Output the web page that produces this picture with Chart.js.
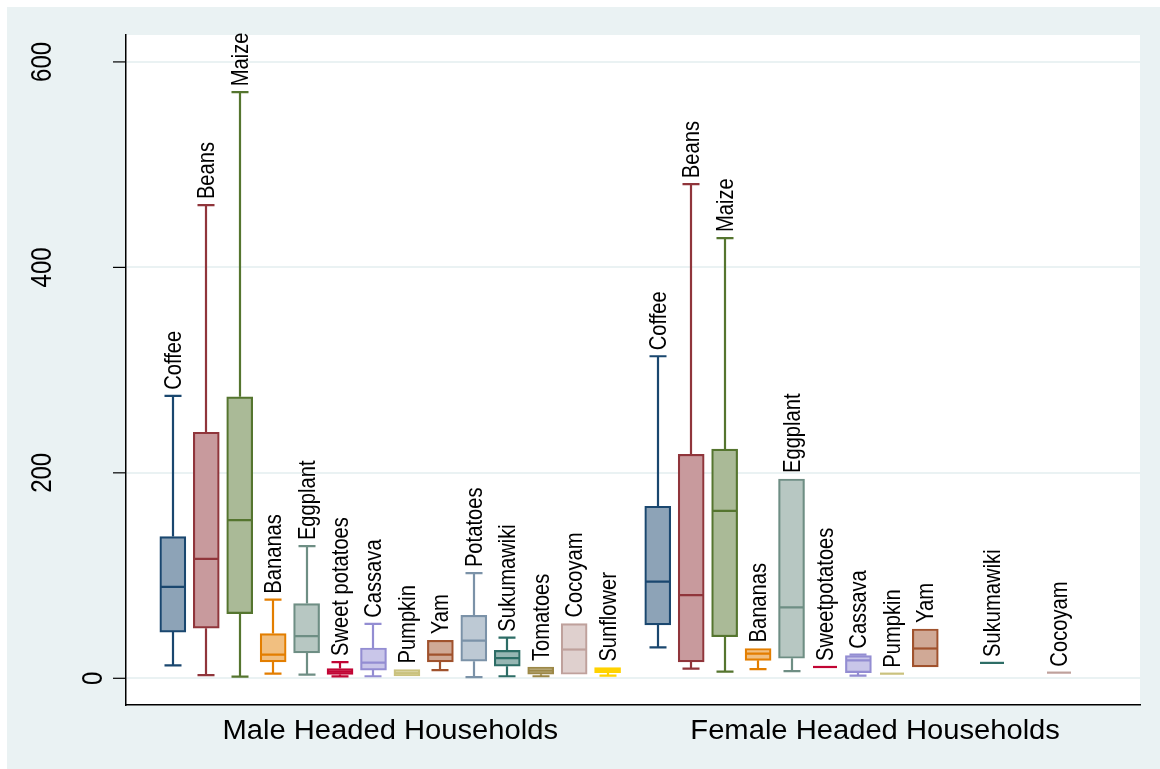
<!DOCTYPE html>
<html>
<head>
<meta charset="utf-8">
<script src="https://cdn.jsdelivr.net/npm/chart.js@4.4.0/dist/chart.umd.min.js"></script>
<style>
  html, body { margin: 0; padding: 0; background: #ffffff; }
  canvas { display: block; }
</style>
</head>
<body>
<canvas id="chart" width="1160" height="769"></canvas>
<script>
// crop slots (same order in both groups)
const maleLabels = ['Coffee', 'Beans', 'Maize', 'Bananas', 'Eggplant', 'Sweet potatoes', 'Cassava',
    'Pumpkin', 'Yam', 'Potatoes', 'Sukumawiki', 'Tomatoes', 'Cocoyam', 'Sunflower'];
const femaleLabels = ['Coffee', 'Beans', 'Maize', 'Bananas', 'Eggplant', 'Sweetpotatoes', 'Cassava',
    'Pumpkin', 'Yam', 'Potatoes', 'Sukumawiki', 'Tomatoes', 'Cocoyam', 'Sunflower'];
const groupLabels = ['Male Headed Households', 'Female Headed Households'];
const groupOffsets = [0, 14.5];
const yTicks = [0, 200, 400, 600];

// male headed households
const maleMin = [12.5, 3, 1.7, 4.6, 3.5, 1.8, 2, 2.2, 8, 1.2, 2, 2, 3.9, 2.6];
const maleQ1 = [45, 48.8, 63, 16, 24.7, 3.7, 8, 2.2, 16, 16.7, 11.8, 4, 3.9, 5.5];
const maleMed = [89, 116.2, 154, 23, 41, 6.5, 15.2, 5, 23, 36.6, 19.6, 7.5, 28, 8];
const maleQ3 = [138, 239.5, 274, 43.5, 72.7, 9.5, 29.5, 8.5, 37, 61.3, 27.2, 11, 53.3, 10.4];
const maleMax = [275, 460.6, 570.5, 76.5, 128.7, 15.8, 53, 8.5, 37, 102.4, 39.5, 11, 53.3, 10.4];

// female headed households (null = not grown)
const femaleMin = [30, 9.5, 6.5, 9, 7, 11, 2.5, 4.5, 11, null, 15, null, 5.5, null];
const femaleQ1 = [52, 16, 40.5, 17.5, 19.5, 11, 5.5, 4.5, 11, null, 15, null, 5.5, null];
const femaleMed = [94, 81, 163, 24, 69, 11, 17.5, 4.5, 29, null, 15, null, 5.5, null];
const femaleQ3 = [167.5, 218, 223, 29, 194, 11, 22, 4.5, 48, null, 15, null, 5.5, null];
const femaleMax = [313.5, 481, 428.5, 29, 194, 11, 23, 4.5, 48, null, 15, null, 5.5, null];

const cropColors = ['#1a476f', '#90353b', '#55752f', '#e37e00', '#6e8e84', '#c10534', '#938dd2',
    '#cac27e', '#a0522d', '#7b92a8', '#2d6d66', '#9c8847', '#bfa19c', '#ffd200'];

function lighten(hex, t) {
    const n = parseInt(hex.slice(1), 16);
    const r = (n >> 16) & 255, g = (n >> 8) & 255, b = n & 255;
    const m = c => Math.round(c + (255 - c) * t);
    return 'rgb(' + m(r) + ',' + m(g) + ',' + m(b) + ')';
}

// one list of boxes built from the arrays above
const groups = [
    { labels: maleLabels, min: maleMin, q1: maleQ1, med: maleMed, q3: maleQ3, max: maleMax },
    { labels: femaleLabels, min: femaleMin, q1: femaleQ1, med: femaleMed, q3: femaleQ3, max: femaleMax }
];
const boxes = [];
groups.forEach((g, gi) => {
    g.labels.forEach((name, i) => {
        if (g.q1[i] === null) return;
        boxes.push({
            x: groupOffsets[gi] + i, name: name, color: cropColors[i],
            min: g.min[i], q1: g.q1[i], med: g.med[i], q3: g.q3[i], max: g.max[i]
        });
    });
});

const BOX_W = 26;
const CAP_W = 17;

const boxPlugin = {
    id: 'boxPlugin',
    beforeDraw(chart) {
        const ctx = chart.ctx, a = chart.chartArea;
        ctx.save();
        ctx.fillStyle = '#ffffff';
        ctx.fillRect(0, 0, chart.width, chart.height);
        ctx.fillStyle = '#eaf2f3';
        ctx.fillRect(7, 7, chart.width - 7, chart.height - 7);
        ctx.fillStyle = '#ffffff';
        ctx.fillRect(a.left, a.top, a.right - a.left, a.bottom - a.top);
        ctx.restore();
    },
    afterDatasetsDraw(chart) {
        const ctx = chart.ctx;
        const xs = chart.scales.x, ys = chart.scales.y;
        ctx.save();
        boxes.forEach(b => {
            const px = Math.round(xs.getPixelForValue(b.x));
            const yMax = ys.getPixelForValue(b.max), yQ3 = ys.getPixelForValue(b.q3);
            const yQ1 = ys.getPixelForValue(b.q1), yMin = ys.getPixelForValue(b.min);
            const yMed = ys.getPixelForValue(b.med);
            ctx.strokeStyle = b.color;
            ctx.lineWidth = 2.2;
            ctx.beginPath();
            if (b.max > b.q3) {
                ctx.moveTo(px, yQ3); ctx.lineTo(px, yMax);
                ctx.moveTo(px - CAP_W / 2, yMax); ctx.lineTo(px + CAP_W / 2, yMax);
            }
            if (b.min < b.q1) {
                ctx.moveTo(px, yQ1); ctx.lineTo(px, yMin);
                ctx.moveTo(px - CAP_W / 2, yMin); ctx.lineTo(px + CAP_W / 2, yMin);
            }
            ctx.moveTo(px - BOX_W / 2 + 1, yMed); ctx.lineTo(px + BOX_W / 2 - 1, yMed);
            ctx.stroke();

            // vertical crop label above the top whisker
            ctx.save();
            ctx.translate(px, Math.min(yMax, yQ3) - 6);
            ctx.rotate(-Math.PI / 2);
            ctx.scale(0.84, 1);
            ctx.fillStyle = '#000000';
            ctx.font = '24px "Liberation Sans", Arial, sans-serif';
            ctx.textAlign = 'left';
            ctx.textBaseline = 'middle';
            ctx.fillText(b.name, 0, 1);
            ctx.restore();
        });
        ctx.restore();
    },
    afterDraw(chart) {
        const ctx = chart.ctx, a = chart.chartArea;
        const xs = chart.scales.x, ys = chart.scales.y;
        ctx.save();
        // y ticks and rotated labels
        ctx.strokeStyle = '#000000';
        ctx.lineWidth = 1.2;
        ctx.font = '30px "Liberation Sans", Arial, sans-serif';
        yTicks.forEach(v => {
            const py = ys.getPixelForValue(v);
            ctx.beginPath();
            ctx.moveTo(a.left - 13, py); ctx.lineTo(a.left, py);
            ctx.stroke();
            const txt = String(v);
            const len = ctx.measureText(txt).width * 0.8;
            const cx = a.left - 8 - 1.9 * len;
            ctx.save();
            ctx.translate(cx, py);
            ctx.rotate(-Math.PI / 2);
            ctx.scale(0.8, 1);
            ctx.fillStyle = '#000000';
            ctx.textAlign = 'center';
            ctx.textBaseline = 'middle';
            ctx.fillText(txt, 0, 1);
            ctx.restore();
        });
        // group labels
        ctx.font = '27px "Liberation Sans", Arial, sans-serif';
        ctx.fillStyle = '#000000';
        ctx.textAlign = 'center';
        ctx.textBaseline = 'alphabetic';
        groupLabels.forEach((g, gi) => {
            const px = xs.getPixelForValue(groupOffsets[gi] + 6.5);
            ctx.save();
            ctx.translate(px, a.bottom + 34);
            ctx.scale(1.08, 1);
            ctx.fillText(g, 0, 0);
            ctx.restore();
        });
        ctx.restore();
    }
};

new Chart(document.getElementById('chart'), {
    type: 'bar',
    data: {
        datasets: [{
            data: boxes.map(b => ({ x: b.x, y: [b.q1, b.q3] })),
            backgroundColor: boxes.map(b => lighten(b.color, 0.5)),
            borderColor: boxes.map(b => b.color),
            borderWidth: 2.2,
            borderSkipped: false,
            barThickness: BOX_W
        }]
    },
    options: {
        responsive: false,
        animation: false,
        layout: { padding: { left: 126, top: 35, right: 20, bottom: 64 } },
        plugins: { legend: { display: false }, tooltip: { enabled: false } },
        scales: {
            x: {
                type: 'linear', min: -1.4, max: 28.92, offset: false,
                ticks: { display: false },
                grid: { display: false, drawTicks: false, offset: false },
                border: { display: true, color: '#000000', width: 1.5 }
            },
            y: {
                min: -26, max: 626.2,
                ticks: { display: false, stepSize: 200, includeBounds: false },
                grid: { color: '#eaf2f3', lineWidth: 2, drawTicks: false },
                border: { display: true, color: '#000000', width: 1.5 }
            }
        }
    },
    plugins: [boxPlugin]
});
</script>
</body>
</html>
